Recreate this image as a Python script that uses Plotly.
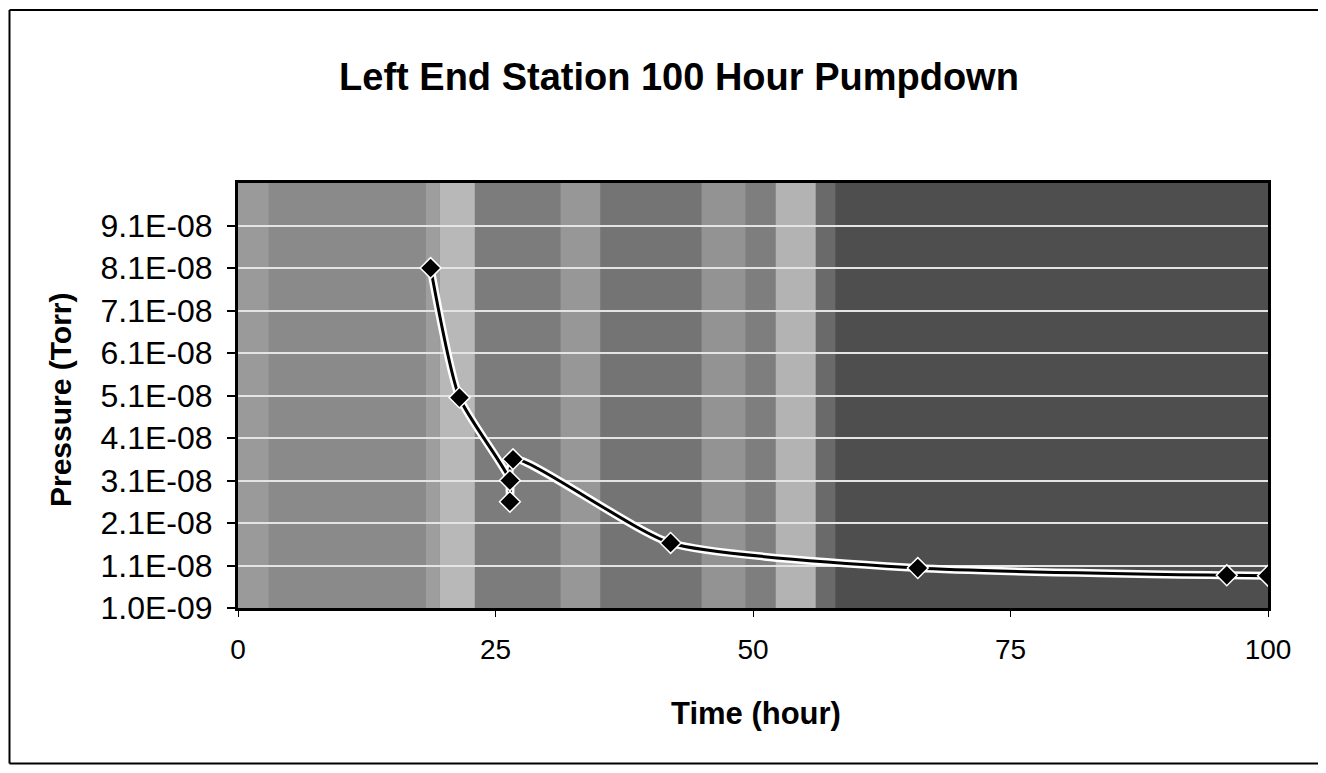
import plotly.graph_objects as go

# ---- data ----
time_hour = [18.7, 21.5, 26.4, 26.4, 26.7, 42.0, 66.0, 96.0, 100.0]
pressure_torr = [8.1e-08, 5.05e-08, 3.1e-08, 2.6e-08, 3.6e-08, 1.63e-08, 1.04e-08, 8.7e-09, 8.6e-09]

y_tick_values = [1.0e-09, 1.1e-08, 2.1e-08, 3.1e-08, 4.1e-08, 5.1e-08, 6.1e-08, 7.1e-08, 8.1e-08, 9.1e-08]
y_tick_labels = ["1.0E-09", "1.1E-08", "2.1E-08", "3.1E-08", "4.1E-08",
                 "5.1E-08", "6.1E-08", "7.1E-08", "8.1E-08", "9.1E-08"]
x_tick_values = [0, 25, 50, 75, 100]

title_text = "Left End Station 100 Hour Pumpdown"
x_title = "Time (hour)"
y_title = "Pressure (Torr)"

# background bands imitating the scanned shading (start, end, gray)
bands = [
    (0, 3, "#9a9a9a"), (3, 18.2, "#8a8a8a"), (18.2, 19.6, "#9e9e9e"),
    (19.6, 23.0, "#b8b8b8"), (23.0, 31.3, "#7c7c7c"), (31.3, 35.2, "#979797"),
    (35.2, 45.0, "#747474"), (45.0, 49.3, "#939393"), (49.3, 52.2, "#7e7e7e"),
    (52.2, 56.1, "#b3b3b3"), (56.1, 58.0, "#6a6a6a"), (58.0, 100, "#4e4e4e"),
]

FONT = "Liberation Sans, Arial, sans-serif"
OFF = 8  # page body margin in the browser
FIG_W, FIG_H = 1326 - OFF, 773 - 2 * OFF

# target plot area in page pixels
PL, PR, PT, PB = 238, 1268, 183, 608
PW, PH = PR - PL, PB - PT


def px_x(px):
    return (px - PL) / PW


def px_y(py):
    return (PB - py) / PH


fig = go.Figure()

fig.add_trace(go.Scatter(
    x=time_hour, y=pressure_torr, mode="lines",
    line=dict(color="white", width=8, shape="spline", smoothing=0.6),
    hoverinfo="skip", showlegend=False,
))
fig.add_trace(go.Scatter(
    x=time_hour, y=pressure_torr, mode="lines+markers",
    line=dict(color="black", width=3, shape="spline", smoothing=0.6),
    marker=dict(symbol="diamond", size=16, color="black",
                line=dict(color="white", width=1.5)),
    showlegend=False,
))

shapes = []
for x0, x1, c in bands:
    shapes.append(dict(type="rect", xref="x", yref="paper", x0=x0, x1=x1, y0=0, y1=1,
                       fillcolor=c, line=dict(width=0), layer="below"))
# outer chart frame: top, left and bottom edges (right edge lies outside the picture)
frame_left, frame_right, frame_top, frame_bottom = 9.5, 1400, 10, 763.5
for (ax0, ay0, ax1, ay1) in [
    (frame_left, frame_top, frame_right, frame_top),
    (frame_left, frame_top, frame_left, frame_bottom),
    (frame_left, frame_bottom, frame_right, frame_bottom),
]:
    shapes.append(dict(type="line", xref="paper", yref="paper",
                       x0=px_x(ax0), x1=px_x(ax1), y0=px_y(ay0), y1=px_y(ay1),
                       line=dict(color="black", width=2), layer="below"))

fig.update_layout(
    width=FIG_W, height=FIG_H,
    margin=dict(l=PL - OFF, r=FIG_W + OFF - PR, t=PT - OFF, b=FIG_H + OFF - PB),
    paper_bgcolor="white",
    plot_bgcolor="#6a6a6a",
    font=dict(family=FONT, color="black"),
    shapes=shapes,
    title=dict(text="<b>" + title_text + "</b>", font=dict(size=38, family=FONT),
               x=(679 - OFF) / FIG_W, xref="container", xanchor="center",
               y=1 - (77 - OFF) / FIG_H, yref="container", yanchor="middle"),
    annotations=[
        dict(text="<b>" + x_title + "</b>", xref="paper", yref="paper",
             x=px_x(756), y=px_y(713), xanchor="center", yanchor="middle",
             showarrow=False, font=dict(size=31, family=FONT)),
        dict(text="<b>" + y_title + "</b>", xref="paper", yref="paper",
             x=px_x(60), y=px_y(400), xanchor="center", yanchor="middle",
             textangle=-90, showarrow=False, font=dict(size=30, family=FONT)),
    ],
    xaxis=dict(range=[0, 100], tickvals=x_tick_values, ticks="outside", ticklen=6,
               tickcolor="black", tickwidth=1, showgrid=False, zeroline=False,
               showline=True, linecolor="black", linewidth=3, mirror=True,
               tickfont=dict(size=28, family=FONT), ticklabelstandoff=8),
    yaxis=dict(range=[1.0e-09, 1.01e-07], tickvals=y_tick_values, ticktext=y_tick_labels,
               ticks="outside", ticklen=8, tickcolor="black", tickwidth=1.5,
               showgrid=True, gridcolor="#e4e4e4", gridwidth=1.5, zeroline=False,
               showline=True, linecolor="black", linewidth=3, mirror=True,
               tickfont=dict(size=32, family=FONT), ticklabelstandoff=8),
)

fig.write_html("out.html")
